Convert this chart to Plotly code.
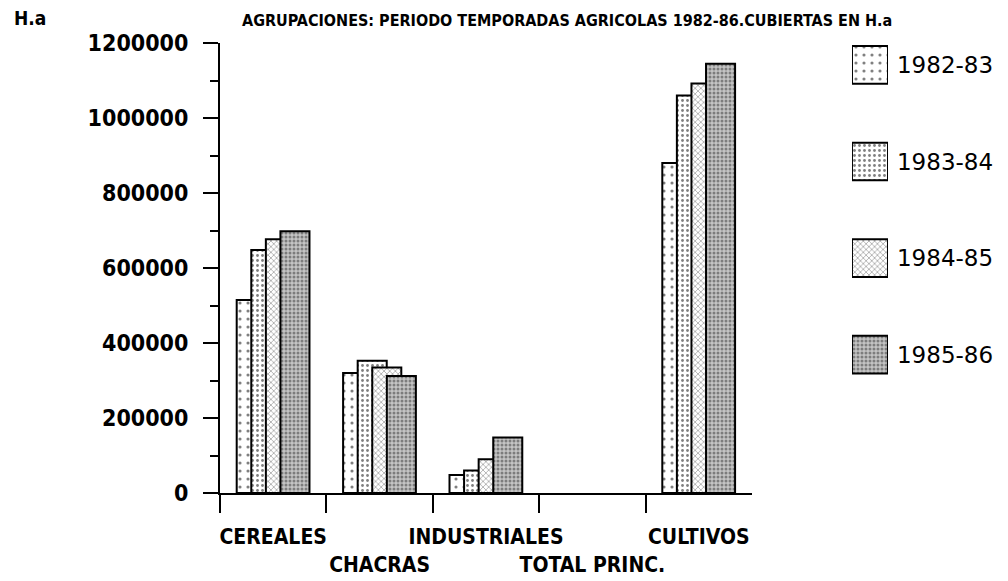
import plotly.graph_objects as go

# superficie (H.a) por agrupacion y temporada
categorias = ["CEREALES", "CHACRAS", "INDUSTRIALES", "TOTAL PRINC.", "CULTIVOS"]
etiquetas = ["CEREALES", "<br>CHACRAS", "INDUSTRIALES", "<br>TOTAL PRINC.", "CULTIVOS"]
temporadas = ["1982-83", "1983-84", "1984-85", "1985-86"]

t_1982_83 = [515000, 320000, 48000, None, 880000]
t_1983_84 = [648000, 353000, 60000, None, 1060000]
t_1984_85 = [677000, 335000, 90000, None, 1092000]
t_1985_86 = [698000, 312000, 148000, None, 1145000]
series = [t_1982_83, t_1983_84, t_1984_85, t_1985_86]

patrones = [
    dict(shape=".", size=8, solidity=0.12, fgcolor="black", bgcolor="white"),
    dict(shape=".", size=5, solidity=0.25, fgcolor="black", bgcolor="white"),
    dict(shape="x", size=4, solidity=0.3, fgcolor="#222", bgcolor="white"),
    dict(shape=".", size=4, solidity=0.45, fgcolor="#333", bgcolor="#c4c4c4"),
]

fig = go.Figure()

ancho = 0.273
paso = 0.137
for i, (nombre, vals) in enumerate(zip(temporadas, series)):
    fig.add_trace(go.Bar(
        x=categorias, y=vals, name=nombre,
        width=ancho, offset=-0.343 + i * paso,
        marker=dict(color="white", line=dict(color="black", width=2), pattern=patrones[i]),
        showlegend=False,
    ))
    # muestra de leyenda
    fig.add_trace(go.Bar(
        y=[nombre], x=[1], orientation="h", xaxis="x2", yaxis="y2",
        width=0.39,
        marker=dict(color="white", line=dict(color="black", width=2), pattern=patrones[i]),
        showlegend=False, hoverinfo="skip",
    ))

fig.update_layout(
    width=1008, height=581,
    margin=dict(l=212, r=18, t=35, b=94),
    paper_bgcolor="white", plot_bgcolor="white",
    barmode="overlay",
    xaxis=dict(
        domain=[0, 0.6838], type="category", range=[-0.5, 4.5],
        tickvals=categorias, ticktext=etiquetas, tickson="boundaries",
        ticks="outside", ticklen=18, tickwidth=2, tickcolor="black",
        showline=True, linecolor="black", linewidth=2, showgrid=False,
        tickfont=dict(family="DejaVu Sans Condensed", size=21, color="black", weight="bold"),
        tickangle=0, ticklabelstandoff=24,
    ),
    yaxis=dict(
        range=[0, 1200000], dtick=200000, tickformat="d",
        ticks="outside", ticklen=15, tickwidth=2, tickcolor="black",
        minor=dict(dtick=100000, ticks="outside", ticklen=8, tickwidth=2, tickcolor="black"),
        showline=True, linecolor="black", linewidth=2, showgrid=False,
        zeroline=False, ticklabelstandoff=10,
        tickfont=dict(family="DejaVu Sans Condensed", size=23, color="black", weight="bold"),
    ),
    xaxis2=dict(
        domain=[0.8123, 0.8586], range=[0, 1], anchor="y2",
        visible=False, fixedrange=True,
    ),
    yaxis2=dict(
        domain=[0.2, 1.0], anchor="x2", type="category",
        categoryorder="array", categoryarray=temporadas,
        range=[3.5, -0.227], side="right",
        showline=False, showgrid=False, ticks="", zeroline=False,
        ticklabelstandoff=8,
        tickfont=dict(family="DejaVu Sans", size=23, color="black"),
    ),
    annotations=[
        dict(text="H.a", xref="paper", yref="paper", x=-0.267, y=1.055,
             xanchor="left", yanchor="middle", showarrow=False,
             font=dict(family="DejaVu Sans Condensed", size=19, color="black", weight="bold")),
        dict(text="AGRUPACIONES: PERIODO TEMPORADAS AGRICOLAS 1982-86.CUBIERTAS EN H.a",
             xref="paper", yref="paper", x=0.026, y=1.076,
             xanchor="left", yanchor="top", showarrow=False,
             font=dict(family="DejaVu Sans Condensed", size=16, color="black", weight="bold")),
    ],
)

fig.write_html("out.html")
